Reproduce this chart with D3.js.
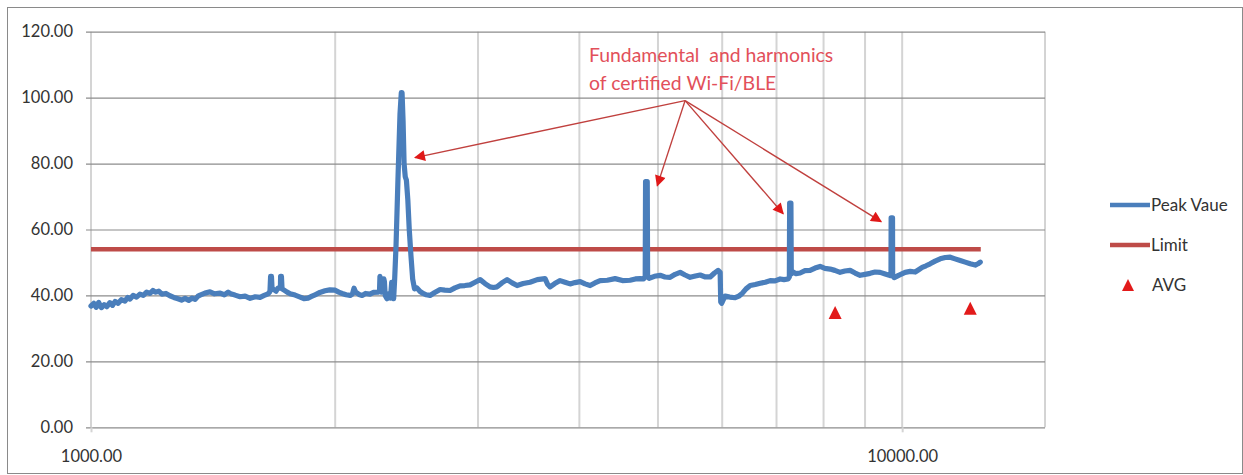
<!DOCTYPE html>
<html>
<head>
<meta charset="utf-8">
<script src="https://cdn.jsdelivr.net/npm/d3@7"></script>
<style>
  html, body { margin: 0; padding: 0; background: #fff; }
  svg { display: block; }
  text { font-family: Lato, "Open Sans", "Liberation Sans", sans-serif; }
</style>
</head>
<body>
<svg id="chart" width="1243" height="475"></svg>
<script>
// Frequency sweep (MHz) and measured peak level (dBuV/m)
const peakFreq = [
  1000, 1008, 1015, 1022, 1030, 1038, 1046, 1055, 1063, 1071, 1080, 1090, 1101, 1110, 1117, 1127,
  1138, 1149, 1160, 1171, 1182, 1192, 1200, 1212, 1223, 1237, 1251, 1265, 1280, 1293, 1306, 1320,
  1332, 1344, 1355, 1363, 1382, 1402, 1420, 1443, 1460, 1476, 1490, 1505, 1527, 1549, 1571, 1594,
  1616, 1635, 1653, 1662, 1665, 1669, 1672, 1680, 1691, 1700, 1712, 1713, 1717, 1720, 1730, 1745,
  1760, 1785, 1811, 1830, 1852, 1870, 1889, 1915, 1943, 1970, 2000, 2020, 2040, 2063, 2087, 2100,
  2110, 2120, 2140, 2159, 2180, 2208, 2230, 2259, 2268, 2271, 2275, 2282, 2290, 2296, 2300, 2305,
  2317, 2330, 2340, 2348, 2354, 2361, 2368, 2377, 2390, 2404, 2413, 2418, 2425, 2432, 2440, 2448,
  2458, 2468, 2480, 2492, 2505, 2522, 2545, 2567, 2590, 2618, 2650, 2694, 2730, 2771, 2810, 2851,
  2890, 2933, 2975, 3018, 3060, 3104, 3135, 3167, 3210, 3258, 3305, 3352, 3410, 3477, 3550, 3629,
  3655, 3681, 3730, 3787, 3840, 3896, 3950, 4009, 4065, 4124, 4180, 4243, 4330, 4427, 4520, 4619,
  4690, 4752, 4800, 4822, 4827, 4850, 4855, 4876, 4950, 5031, 5100, 5176, 5250, 5325, 5400, 5478,
  5560, 5636, 5720, 5798, 5870, 5931, 5965, 5975, 5991, 6020, 6051, 6130, 6225, 6290, 6350, 6420,
  6496, 6590, 6683, 6780, 6875, 6970, 7073, 7150, 7235, 7260, 7266, 7292, 7300, 7328, 7400, 7485,
  7590, 7700, 7810, 7922, 8030, 8150, 8260, 8385, 8500, 8627, 8750, 8875, 9000, 9131, 9260, 9394,
  9530, 9665, 9688, 9692, 9730, 9734, 9776, 9900, 10085, 10230, 10376, 10480, 10585, 10700, 10827, 10980,
  11140, 11300, 11461, 11620, 11791, 11960, 12131, 12305, 12400, 12481
];
const peakValue = [
  36.8, 37.6, 36.4, 37.9, 36.3, 37.2, 36.6, 37.8, 37.0, 38.2, 37.6, 38.7, 38.3, 39.4, 38.9, 40.0,
  39.5, 40.4, 40.0, 41.0, 40.6, 41.5, 41.0, 41.3, 40.4, 40.6, 39.9, 39.4, 39.0, 38.6, 39.1, 38.5,
  39.2, 38.8, 39.8, 40.1, 40.7, 41.1, 40.5, 40.7, 40.2, 41.0, 40.4, 40.1, 39.6, 39.8, 39.1, 39.6,
  39.4, 40.0, 40.5, 41.2, 45.8, 45.8, 42.0, 41.8, 41.3, 42.2, 42.3, 45.8, 45.8, 42.0, 41.6, 41.0,
  40.5, 40.1, 39.5, 39.0, 39.2, 39.7, 40.2, 40.9, 41.4, 41.7, 41.6, 41.0, 40.6, 40.2, 40.0, 40.4,
  42.2, 41.0, 40.3, 40.0, 40.6, 40.4, 40.9, 41.0, 41.2, 45.8, 42.0, 41.0, 41.5, 45.0, 44.2, 40.0,
  39.0, 40.5, 39.2, 44.0, 41.0, 39.0, 45.0, 55.0, 75.0, 95.0, 101.5, 101.5, 93.0, 80.0, 76.0, 75.0,
  69.0, 60.0, 52.0, 45.0, 42.0, 42.3, 41.2, 40.6, 40.2, 40.0, 40.8, 41.8, 41.6, 41.5, 42.3, 42.9,
  43.0, 43.2, 44.0, 44.8, 43.6, 42.6, 42.4, 42.6, 43.8, 44.8, 43.8, 43.0, 43.6, 44.0, 44.8, 45.1,
  43.4, 42.6, 43.6, 44.5, 44.0, 43.5, 43.9, 44.2, 43.5, 43.0, 43.8, 44.5, 44.6, 45.1, 44.5, 44.6,
  45.0, 45.1, 45.0, 45.6, 74.5, 74.5, 45.6, 45.2, 45.8, 46.1, 45.6, 45.5, 46.4, 47.0, 46.2, 45.5,
  45.9, 46.2, 45.6, 45.6, 46.8, 47.6, 47.0, 38.0, 37.6, 38.8, 39.8, 39.5, 39.3, 39.8, 40.6, 42.0,
  43.0, 43.3, 43.7, 44.0, 44.5, 44.4, 45.0, 44.8, 45.0, 45.6, 68.0, 68.0, 46.5, 47.2, 46.6, 46.8,
  47.5, 47.6, 48.3, 48.8, 48.2, 48.0, 47.6, 47.0, 47.4, 47.6, 46.8, 46.1, 46.4, 46.7, 47.1, 47.0,
  46.5, 46.0, 46.4, 63.5, 63.5, 46.0, 45.4, 46.1, 47.0, 47.3, 47.1, 47.8, 48.5, 49.0, 49.6, 50.4,
  51.1, 51.5, 51.6, 51.1, 50.6, 50.1, 49.6, 49.2, 49.6, 50.1
];

// Emission limit
const limitFreq = [1000, 12500];
const limitValue = [54.0, 54.0];

// Average detector readings
const avgFreq = [8267, 12132];
const avgValue = [34.8, 36.1];

// Axis ticks
const yTicks = [0, 20, 40, 60, 80, 100, 120];
const xLabelTicks = [1000, 10000];
const xGridTicks = [1000, 2000, 3000, 4000, 5000, 6000, 7000, 8000, 9000, 10000];

// Legend entries
const legendLabels = ["Peak Vaue", "Limit", "AVG"];

// Annotation: text lines and arrow tips (frequency, level)
const noteLines = ["Fundamental  and harmonics", "of certified Wi-Fi/BLE"];
const noteOrigin = [5400, 99.1];
const noteTargets = [[2509, 81.8], [4990, 73.3], [7133, 64.8], [9421, 62.4]];

const colors = { peak: "#4a7ebb", limit: "#be4b48", avg: "#e21a1a", note: "#e2505a", arrow: "#c0403e" };

const svg = d3.select("#chart");
const plotL = 91, plotR = 1045, plotT = 31.7, plotB = 427.3;

const x = d3.scaleLog().domain([1000, 15000]).range([plotL, plotR]);
const y = d3.scaleLinear().domain([0, 120]).range([plotB, plotT]);

// Chart frame
svg.append("rect")
  .attr("x", 7.5).attr("y", 7.5).attr("width", 1235).attr("height", 466)
  .attr("fill", "#fff").attr("stroke", "#8a8a8a").attr("stroke-width", 1);

// Vertical gridlines (log decades and minor steps)
svg.append("g").selectAll("line").data(xGridTicks).join("line")
  .attr("x1", d => x(d)).attr("x2", d => x(d))
  .attr("y1", plotT).attr("y2", plotB)
  .attr("stroke", "#d4d4d4").attr("stroke-width", 2);

// Right edge of the plot area
svg.append("line")
  .attr("x1", plotR).attr("x2", plotR).attr("y1", plotT).attr("y2", plotB)
  .attr("stroke", "#a8a8a8").attr("stroke-width", 1);

// Y axis with horizontal gridlines
const yAxis = d3.axisLeft(y).tickValues(yTicks).tickFormat(d3.format(".2f"))
  .tickSize(-(plotR - plotL + 5)).tickPadding(13);
const gy = svg.append("g").attr("transform", `translate(${plotL - 5},0)`).call(yAxis);
gy.select(".domain").remove();
gy.selectAll(".tick line").attr("stroke", "#8c8c8c").attr("stroke-width", 1.2);
gy.selectAll(".tick text").attr("fill", "#333").style("font-size", "16.5px");

// X axis labels at the decades
const xAxis = d3.axisBottom(x).tickValues(xLabelTicks).tickFormat(d3.format(".2f"))
  .tickSize(5).tickPadding(18);
const gx = svg.append("g").attr("transform", `translate(0,${plotB})`).call(xAxis);
gx.select(".domain").remove();
gx.selectAll(".tick line").attr("stroke", "#d4d4d4").attr("stroke-width", 2);
gx.selectAll(".tick text").attr("fill", "#333").style("font-size", "16.5px");

// Limit line
const limitData = limitFreq.map((f, i) => [f, limitValue[i]]);
const line = d3.line().x(d => x(d[0])).y(d => y(d[1]));
svg.append("path").datum(limitData)
  .attr("d", line).attr("fill", "none")
  .attr("stroke", colors.limit).attr("stroke-width", 4.5);

// Peak trace
const peakData = peakFreq.map((f, i) => [f, peakValue[i]]);
svg.append("path").datum(peakData)
  .attr("d", line).attr("fill", "none")
  .attr("stroke", colors.peak).attr("stroke-width", 5.2)
  .attr("stroke-linejoin", "round").attr("stroke-linecap", "round");

// Average markers (triangles centred on the reading)
const tri = (cx, cy, w, h) => `M${cx},${cy - h / 2}L${cx + w / 2},${cy + h / 2}L${cx - w / 2},${cy + h / 2}Z`;
svg.append("g").selectAll("path").data(avgFreq.map((f, i) => [f, avgValue[i]])).join("path")
  .attr("d", d => tri(x(d[0]), y(d[1]), 13, 13))
  .attr("fill", colors.avg);

// Annotation arrows
const defs = svg.append("defs");
defs.append("marker")
  .attr("id", "head").attr("viewBox", "0 0 10 10")
  .attr("refX", 9).attr("refY", 5)
  .attr("markerWidth", 14).attr("markerHeight", 11)
  .attr("markerUnits", "userSpaceOnUse")
  .attr("orient", "auto")
  .append("path").attr("d", "M0,0L10,5L0,10Z").attr("fill", "#e01818");

svg.append("g").selectAll("line").data(noteTargets).join("line")
  .attr("x1", x(noteOrigin[0])).attr("y1", y(noteOrigin[1]))
  .attr("x2", d => x(d[0])).attr("y2", d => y(d[1]))
  .attr("stroke", colors.arrow).attr("stroke-width", 1.4)
  .attr("marker-end", "url(#head)");

svg.append("g").selectAll("text").data(noteLines).join("text")
  .attr("x", 589).attr("y", (d, i) => 62 + i * 28)
  .attr("fill", colors.note).style("font-size", "19.4px")
  .style("white-space", "pre").attr("xml:space", "preserve")
  .text(d => d);

// Legend
const legend = svg.append("g").attr("transform", "translate(1110,205)");
const rows = legend.selectAll("g").data(legendLabels).join("g")
  .attr("transform", (d, i) => `translate(0,${i * 40})`);
rows.each(function (d, i) {
  const g = d3.select(this);
  if (i < 2) {
    g.append("line").attr("x1", 0).attr("x2", 40).attr("y1", 0).attr("y2", 0)
      .attr("stroke", i === 0 ? colors.peak : colors.limit).attr("stroke-width", 4.5);
  } else {
    g.append("path").attr("d", tri(18, 0, 12, 12)).attr("fill", colors.avg);
  }
  g.append("text").attr("x", i === 2 ? 42 : 41).attr("y", 0).attr("dy", "0.35em")
    .attr("fill", "#333").style("font-size", "17px").text(d);
});
</script>
</body>
</html>
